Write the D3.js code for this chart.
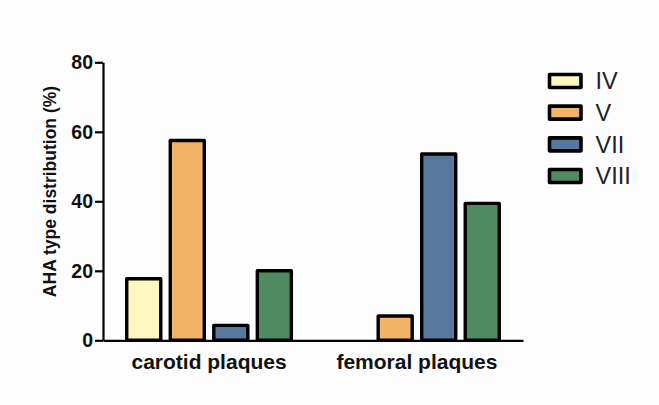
<!DOCTYPE html>
<html>
<head>
<meta charset="utf-8">
<script src="https://cdn.jsdelivr.net/npm/d3@7"></script>
<style>
  html, body { margin: 0; padding: 0; background: #fdfdfd; }
  svg { display: block; }
  text { font-family: "Liberation Sans", Arial, Helvetica, sans-serif; }
</style>
</head>
<body>
<svg id="chart" width="659" height="405"></svg>
<script>
const categories = ["carotid plaques", "femoral plaques"];
const seriesNames = ["IV", "V", "VII", "VIII"];
const seriesColors = ["#fdf9be", "#f2b466", "#57789c", "#4f8a61"];
const valuesIV = [17.7, 0];
const valuesV = [57.5, 7.0];
const valuesVII = [4.3, 53.6];
const valuesVIII = [20.0, 39.4];
const yTicks = [0, 20, 40, 60, 80];
const yTitle = "AHA type distribution (%)";

const seriesValues = [valuesIV, valuesV, valuesVII, valuesVIII];
const data = categories.map((c, i) => ({
  category: c,
  bars: seriesNames.map((s, j) => ({ series: s, value: seriesValues[j][i], color: seriesColors[j] }))
}));

const svg = d3.select("#chart");
const mLeft = 103, mRight = 523, mTop = 62.3, mBottom = 340.3;

const x0 = d3.scaleBand().domain(categories).range([mLeft, mRight]).paddingInner(0.192).paddingOuter(0.106);
const x1 = d3.scaleBand().domain(seriesNames).range([0, x0.bandwidth()]).paddingInner(0.14).paddingOuter(0);
const y = d3.scaleLinear().domain([0, 80]).range([mBottom, mTop]);

const sw = 3.4;

// bars
const groups = svg.append("g").selectAll("g").data(data).join("g")
  .attr("transform", d => `translate(${x0(d.category)},0)`);
groups.selectAll("rect").data(d => d.bars.filter(b => b.value > 0)).join("rect")
  .attr("x", d => x1(d.series) + sw / 2)
  .attr("width", x1.bandwidth() - sw)
  .attr("y", d => y(d.value))
  .attr("height", d => y(0) - y(d.value))
  .attr("fill", d => d.color)
  .attr("stroke", "#000")
  .attr("stroke-width", sw)
  .attr("stroke-linejoin", "round");

// y axis
const yAxis = svg.append("g").attr("transform", `translate(${mLeft},0)`)
  .call(d3.axisLeft(y).tickValues(yTicks).tickSize(8).tickPadding(2).tickSizeOuter(0));
yAxis.select(".domain").attr("stroke", "#000").attr("stroke-width", 2.2);
yAxis.selectAll(".tick line").attr("stroke", "#000").attr("stroke-width", 2.2);
yAxis.selectAll(".tick text")
  .attr("font-size", 19.5).attr("font-weight", "bold").attr("fill", "#111")
  .attr("font-family", "Liberation Sans, Arial, sans-serif");

// x axis
const xAxis = svg.append("g").attr("transform", `translate(0,${mBottom})`)
  .call(d3.axisBottom(x0).tickSize(0).tickPadding(14).tickSizeOuter(0));
xAxis.select(".domain").attr("stroke", "#000").attr("stroke-width", 2.2);
xAxis.selectAll(".tick text")
  .attr("font-size", 21).attr("font-weight", "bold").attr("fill", "#111")
  .attr("font-family", "Liberation Sans, Arial, sans-serif");

// y title
svg.append("text")
  .attr("transform", "translate(56,191.5) rotate(-90)")
  .attr("text-anchor", "middle")
  .attr("font-size", 17.5).attr("font-weight", "bold").attr("fill", "#111")
  .text(yTitle);

// legend
const legendY = d3.scalePoint().domain(seriesNames).range([81, 176]);
const legend = svg.append("g").selectAll("g").data(seriesNames).join("g")
  .attr("transform", d => `translate(549.5,${legendY(d)})`);
legend.append("rect")
  .attr("x", 0).attr("y", -6.5).attr("width", 31.5).attr("height", 13)
  .attr("fill", (d, i) => seriesColors[i])
  .attr("stroke", "#000").attr("stroke-width", 3.6).attr("stroke-linejoin", "round");
legend.append("text")
  .attr("x", 46).attr("y", 0).attr("dy", "0.36em")
  .attr("font-size", 23.5).attr("fill", "#222")
  .text(d => d);
</script>
</body>
</html>
